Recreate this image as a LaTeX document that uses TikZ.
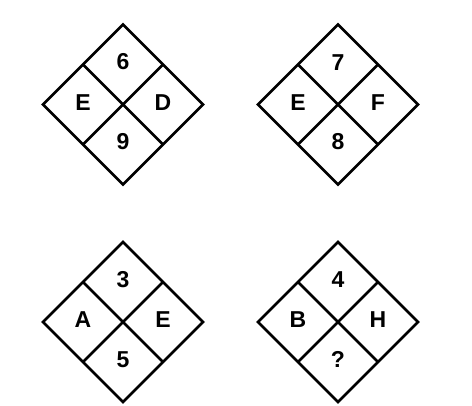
\documentclass[tikz,border=0pt]{standalone}
\usepackage{fontspec}
\setmainfont{Liberation Sans}
\usetikzlibrary{shapes.geometric}

\begin{document}
\begin{tikzpicture}[x=1pt,y=-1pt, frame/.style={draw,diamond,minimum width=160pt,minimum height=160pt,inner sep=0pt,outer sep=0pt,line width=2.8pt}, cell/.style={inner sep=0pt,text height=11pt,font=\fontsize{23}{23}\selectfont\bfseries}]
\useasboundingbox (0,0) rectangle (472,405);
% four puzzles, each a diamond cut into four cells
\foreach \n/\cx/\cy/\up/\lf/\rt/\dn in {a/123/104.5/6/E/D/9, b/338/104.5/7/E/F/8, c/123/322/3/A/E/5, d/338/322/4/B/H/?} {
  \node[frame] (\n) at (\cx,\cy) {};
  \draw[line width=2.8pt] (\n.north west) -- (\n.south east) (\n.north east) -- (\n.south west);
  \node[cell] (\n-top) at (\cx,\cy-40) {\up}; \node[cell] (\n-left) at (\cx-40,\cy) {\lf};
  \node[cell] (\n-right) at (\cx+40,\cy) {\rt}; \node[cell] (\n-bottom) at (\cx,\cy+40) {\dn};
}
\end{tikzpicture}
\end{document}
